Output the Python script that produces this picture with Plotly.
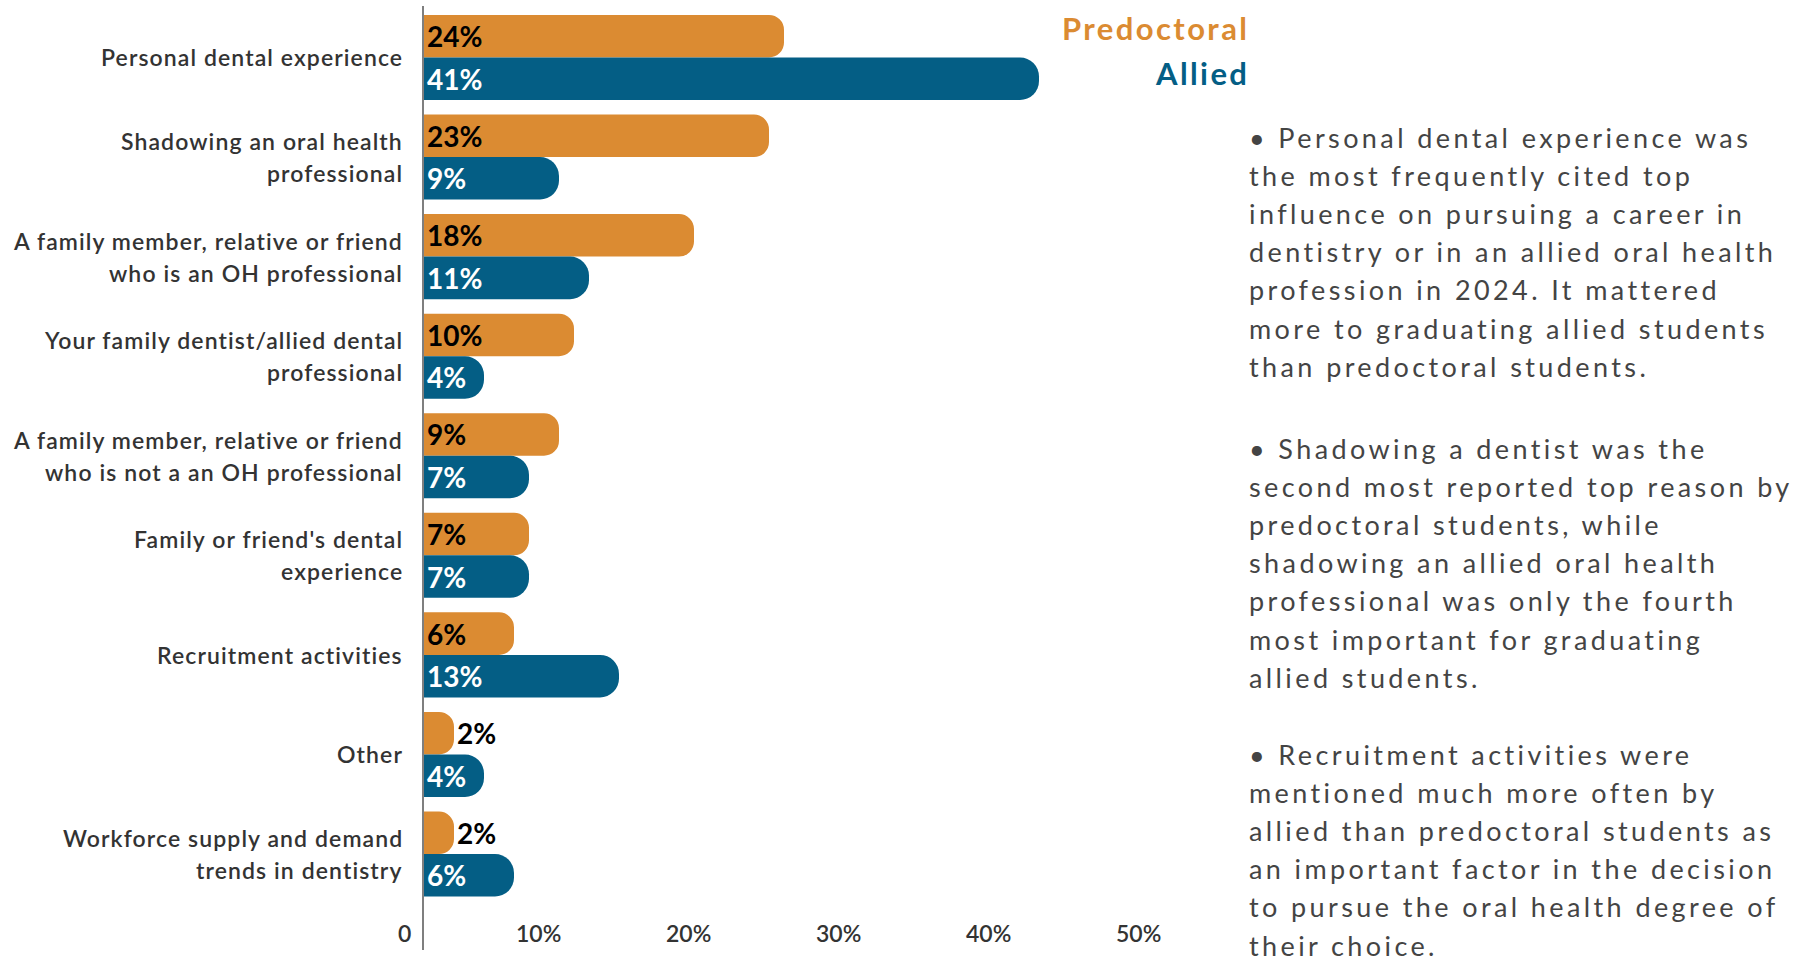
import plotly.graph_objects as go

# Survey data: share of graduating students naming each item as top influence
categories = [
    "Personal dental experience",
    "Shadowing an oral health professional",
    "A family member, relative or friend who is an OH professional",
    "Your family dentist/allied dental professional",
    "A family member, relative or friend who is not a an OH professional",
    "Family or friend's dental experience",
    "Recruitment activities",
    "Other",
    "Workforce supply and demand trends in dentistry",
]
category_lines = [
    ["Personal dental experience"],
    ["Shadowing an oral health", "professional"],
    ["A family member, relative or friend", "who is an OH professional"],
    ["Your family dentist/allied dental", "professional"],
    ["A family member, relative or friend", "who is not a an OH professional"],
    ["Family or friend's dental", "experience"],
    ["Recruitment activities"],
    ["Other"],
    ["Workforce supply and demand", "trends in dentistry"],
]
predoctoral = [24, 23, 18, 10, 9, 7, 6, 2, 2]
allied = [41, 9, 11, 4, 7, 7, 13, 4, 6]

tick_values = [0, 10, 20, 30, 40, 50]
tick_labels = ["0", "10%", "20%", "30%", "40%", "50%"]

notes = [
    [
        "\u2022 Personal dental experience was",
        "the most frequently cited top",
        "influence on pursuing a career in",
        "dentistry or in an allied oral health",
        "profession in 2024. It mattered",
        "more to graduating allied students",
        "than predoctoral students.",
    ],
    [
        "\u2022 Shadowing a dentist was the",
        "second most reported top reason by",
        "predoctoral students, while",
        "shadowing an allied oral health",
        "professional was only the fourth",
        "most important for graduating",
        "allied students.",
    ],
    [
        "\u2022 Recruitment activities were",
        "mentioned much more often by",
        "allied than predoctoral students as",
        "an important factor in the decision",
        "to pursue the oral health degree of",
        "their choice.",
    ],
]

ORANGE = "#DB8B32"
TEAL = "#045E85"
DARK = "#333333"
FONT = "Lato"

W, H = 1807, 956
PLOT_L, PLOT_T, PLOT_B = 424, 6, 950
PLOT_R = 1249


def py(pixel_y):
    """Convert a page pixel row into paper coordinates."""
    return (PLOT_B - pixel_y) / (PLOT_B - PLOT_T)


def spaced(text, px):
    return '<span style="letter-spacing:%spx">%s</span>' % (px, text)


def label_positions(values, min_inside):
    return ["inside" if v >= min_inside else "outside" for v in values]


label_font = dict(family=FONT, size=28, weight=700)

fig = go.Figure()
fig.add_trace(go.Bar(
    name="Predoctoral",
    y=categories, x=predoctoral, orientation="h",
    marker=dict(color=ORANGE, cornerradius=15, line=dict(width=0)),
    texttemplate="%{x}%",
    textposition=label_positions(predoctoral, 5),
    insidetextanchor="start",
    insidetextfont=dict(label_font, color="#000000"),
    outsidetextfont=dict(label_font, color="#000000"),
    constraintext="none",
    cliponaxis=False,
    hoverinfo="skip",
))
fig.add_trace(go.Bar(
    name="Allied",
    y=categories, x=allied, orientation="h",
    marker=dict(color=TEAL, cornerradius=19, line=dict(width=0)),
    texttemplate="%{x}%",
    textposition=label_positions(allied, 3),
    insidetextanchor="start",
    insidetextfont=dict(label_font, color="#FFFFFF"),
    outsidetextfont=dict(label_font, color="#000000"),
    constraintext="none",
    cliponaxis=False,
    hoverinfo="skip",
))

annotations = []

# Category labels, one annotation per line, right-aligned next to the axis
for cat, lines in zip(categories, category_lines):
    n = len(lines)
    for i, line in enumerate(lines):
        offset = (n - 1) / 2 - i
        annotations.append(dict(
            x=0, xref="paper", xanchor="right", xshift=-19,
            y=cat, yref="y", yanchor="middle", yshift=offset * 32,
            text=spaced(line, 1.1), showarrow=False,
            font=dict(family=FONT, size=23, color=DARK, weight=600),
        ))

# Value-axis tick labels, right-aligned just left of each tick
for v, t in zip(tick_values, tick_labels):
    annotations.append(dict(
        x=v, xref="x", xanchor="right", xshift=-11,
        y=py(933), yref="paper", yanchor="middle",
        text=t, showarrow=False,
        font=dict(family=FONT, size=23, color=DARK, weight=600),
    ))

# Series key
annotations.append(dict(
    x=1, xref="paper", xanchor="right", xshift=2,
    y=py(28), yref="paper", yanchor="middle",
    text=spaced("Predoctoral", 2.4), showarrow=False,
    font=dict(family=FONT, size=31, color=ORANGE, weight=700),
))
annotations.append(dict(
    x=1, xref="paper", xanchor="right", xshift=2,
    y=py(73), yref="paper", yanchor="middle",
    text=spaced("Allied", 2.4), showarrow=False,
    font=dict(family=FONT, size=31, color=TEAL, weight=700),
))

# Commentary column
para_top = [137, 448, 754]
line_step = 38.2
for top, para in zip(para_top, notes):
    for i, line in enumerate(para):
        annotations.append(dict(
            x=1, xref="paper", xanchor="left", xshift=-2,
            y=py(top + i * line_step), yref="paper", yanchor="middle",
            text=spaced(line, 3.4),
            showarrow=False,
            font=dict(family=FONT, size=27, color="#444444"),
        ))

fig.update_layout(
    width=W, height=H,
    margin=dict(l=PLOT_L, r=W - PLOT_R, t=PLOT_T, b=H - PLOT_B, pad=0),
    paper_bgcolor="white", plot_bgcolor="white",
    barmode="group", bargap=0.146, bargroupgap=0,
    showlegend=False,
    annotations=annotations,
    xaxis=dict(range=[0, 55], showgrid=False, zeroline=False,
               showticklabels=False, showline=False, fixedrange=True),
    yaxis=dict(type="category", categoryorder="array", categoryarray=categories,
               range=[8.964, -0.517], showgrid=False, zeroline=False,
               showticklabels=False, showline=True, linecolor="#7F7F7F",
               linewidth=2, ticks="", fixedrange=True),
    font=dict(family=FONT),
)

fig.write_html("out.html", config={"displayModeBar": False})
